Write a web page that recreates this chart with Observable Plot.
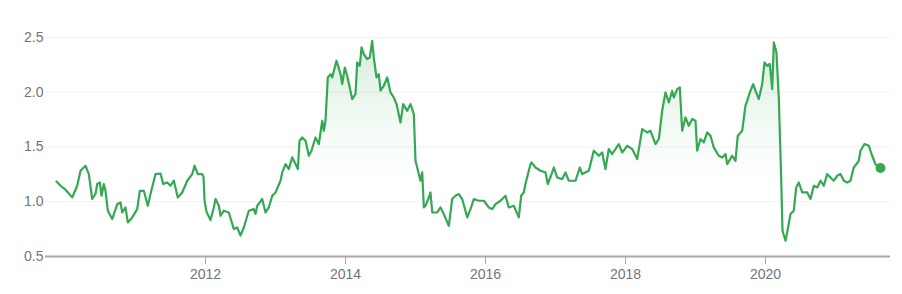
<!DOCTYPE html>
<html>
<head>
<meta charset="utf-8">
<script src="https://cdn.jsdelivr.net/npm/d3@7"></script>
<script src="https://cdn.jsdelivr.net/npm/@observablehq/plot@0.6"></script>
<style>
  html, body { margin: 0; padding: 0; background: #fff; }
  #chart svg { display: block; }
</style>
</head>
<body>
<div id="chart"></div>
<script>
const years = [
  2009.871, 2009.929, 2010.000, 2010.096, 2010.167, 2010.214, 2010.286, 2010.333, 2010.381, 2010.429,
  2010.453, 2010.490, 2010.514, 2010.547, 2010.571, 2010.604, 2010.667, 2010.739, 2010.786, 2010.810,
  2010.857, 2010.890, 2010.953, 2011.024, 2011.061, 2011.119, 2011.176, 2011.214, 2011.286, 2011.357,
  2011.396, 2011.453, 2011.500, 2011.547, 2011.604, 2011.667, 2011.739, 2011.810, 2011.843, 2011.890,
  2011.953, 2011.971, 2011.986, 2012.014, 2012.071, 2012.119, 2012.143, 2012.190, 2012.214, 2012.261,
  2012.333, 2012.404, 2012.453, 2012.500, 2012.547, 2012.619, 2012.690, 2012.714, 2012.739, 2012.810,
  2012.857, 2012.904, 2012.953, 2013.000, 2013.071, 2013.096, 2013.143, 2013.190, 2013.239, 2013.286,
  2013.319, 2013.343, 2013.381, 2013.429, 2013.476, 2013.514, 2013.571, 2013.619, 2013.667, 2013.690,
  2013.714, 2013.747, 2013.786, 2013.810, 2013.871, 2013.929, 2013.953, 2013.990, 2014.024, 2014.096,
  2014.143, 2014.167, 2014.204, 2014.229, 2014.261, 2014.310, 2014.347, 2014.381, 2014.404, 2014.443,
  2014.476, 2014.500, 2014.547, 2014.596, 2014.643, 2014.690, 2014.729, 2014.786, 2014.824, 2014.881,
  2014.929, 2014.976, 2015.000, 2015.047, 2015.071, 2015.096, 2015.119, 2015.143, 2015.190, 2015.214,
  2015.239, 2015.310, 2015.357, 2015.404, 2015.476, 2015.524, 2015.571, 2015.619, 2015.667, 2015.739,
  2015.786, 2015.833, 2015.904, 2015.976, 2016.047, 2016.096, 2016.143, 2016.214, 2016.286, 2016.333,
  2016.404, 2016.476, 2016.510, 2016.547, 2016.571, 2016.643, 2016.657, 2016.714, 2016.786, 2016.857,
  2016.890, 2016.953, 2016.976, 2017.024, 2017.096, 2017.143, 2017.190, 2017.286, 2017.347, 2017.381,
  2017.476, 2017.547, 2017.619, 2017.667, 2017.714, 2017.761, 2017.810, 2017.904, 2017.953, 2018.024,
  2018.096, 2018.167, 2018.239, 2018.310, 2018.357, 2018.429, 2018.476, 2018.524, 2018.571, 2018.619,
  2018.667, 2018.690, 2018.739, 2018.776, 2018.810, 2018.857, 2018.904, 2018.953, 2019.000, 2019.024,
  2019.071, 2019.119, 2019.167, 2019.214, 2019.261, 2019.333, 2019.381, 2019.429, 2019.453, 2019.524,
  2019.571, 2019.604, 2019.667, 2019.714, 2019.739, 2019.776, 2019.824, 2019.857, 2019.904, 2019.953,
  2019.986, 2020.024, 2020.061, 2020.096, 2020.119, 2020.157, 2020.190, 2020.224, 2020.243, 2020.286,
  2020.319, 2020.357, 2020.404, 2020.439, 2020.476, 2020.524, 2020.596, 2020.643, 2020.690, 2020.739,
  2020.786, 2020.833, 2020.881, 2020.929, 2020.976, 2021.024, 2021.071, 2021.119, 2021.167, 2021.214,
  2021.261, 2021.333, 2021.357, 2021.414, 2021.476, 2021.524, 2021.571, 2021.643
];
const values = [
  1.185, 1.146, 1.110, 1.040, 1.146, 1.283, 1.329, 1.253, 1.025, 1.073,
  1.162, 1.176, 1.055, 1.162, 1.100, 0.918, 0.842, 0.979, 0.994, 0.902,
  0.948, 0.811, 0.857, 0.933, 1.100, 1.100, 0.963, 1.070, 1.253, 1.258,
  1.162, 1.176, 1.146, 1.192, 1.039, 1.085, 1.192, 1.253, 1.329, 1.253,
  1.253, 1.228, 1.010, 0.909, 0.833, 0.948, 1.025, 0.963, 0.872, 0.918,
  0.902, 0.751, 0.765, 0.690, 0.765, 0.918, 0.933, 0.888, 0.963, 1.025,
  0.902, 0.948, 1.055, 1.085, 1.192, 1.268, 1.344, 1.299, 1.405, 1.344,
  1.299, 1.557, 1.587, 1.557, 1.420, 1.466, 1.587, 1.527, 1.740, 1.648,
  1.740, 2.135, 2.166, 2.135, 2.288, 2.166, 2.075, 2.226, 2.151, 1.938,
  1.984, 2.272, 2.242, 2.409, 2.349, 2.303, 2.318, 2.470, 2.318, 2.135,
  2.166, 2.014, 2.059, 2.135, 1.998, 1.952, 1.892, 1.724, 1.892, 1.831,
  1.892, 1.800, 1.374, 1.253, 1.192, 1.268, 0.948, 0.963, 1.039, 1.085,
  0.902, 0.902, 0.948, 0.888, 0.780, 1.025, 1.055, 1.070, 1.025, 0.857,
  0.933, 1.025, 1.009, 1.009, 0.948, 0.933, 0.979, 1.009, 1.055, 0.948,
  0.963, 0.857, 1.055, 1.085, 1.162, 1.344, 1.359, 1.313, 1.283, 1.268,
  1.162, 1.268, 1.313, 1.222, 1.207, 1.268, 1.192, 1.192, 1.313, 1.253,
  1.283, 1.466, 1.420, 1.450, 1.299, 1.481, 1.436, 1.527, 1.450, 1.511,
  1.481, 1.390, 1.664, 1.633, 1.648, 1.527, 1.573, 1.831, 1.998, 1.907,
  2.014, 1.952, 2.029, 2.044, 1.648, 1.770, 1.694, 1.755, 1.740, 1.466,
  1.573, 1.542, 1.633, 1.603, 1.496, 1.420, 1.405, 1.436, 1.344, 1.420,
  1.374, 1.603, 1.648, 1.877, 1.922, 1.998, 2.075, 2.014, 1.938, 2.075,
  2.272, 2.242, 2.258, 2.029, 2.455, 2.363, 1.952, 1.222, 0.735, 0.644,
  0.751, 0.888, 0.918, 1.131, 1.176, 1.085, 1.085, 1.025, 1.146, 1.131,
  1.192, 1.146, 1.253, 1.222, 1.192, 1.237, 1.253, 1.192, 1.176, 1.192,
  1.313, 1.374, 1.466, 1.527, 1.511, 1.420, 1.344, 1.308
];
const xTicks = [2012, 2014, 2016, 2018, 2020];
const yTicks = [0.5, 1.0, 1.5, 2.0, 2.5];

const data = years.map((t, i) => ({t, v: values[i]}));
const last = [data[data.length - 1]];
const green = "#34a853";

const chart = Plot.plot({
  width: 902,
  height: 294,
  marginLeft: 45,
  marginRight: 12,
  marginTop: 37,
  marginBottom: 38,
  style: {fontFamily: "'Liberation Sans', Arial, sans-serif", fontSize: "14px", color: "#70757a", background: "#fff"},
  x: {domain: [2009.714, 2021.786], ticks: xTicks, tickFormat: d => String(d), label: null, tickSize: 8, tickPadding: 5},
  y: {domain: [0.5, 2.5], ticks: yTicks, tickFormat: d => d.toFixed(1), label: null, tickSize: 0, tickPadding: 2},
  marks: [
    Plot.gridY(yTicks, {stroke: "#f1f1f1", strokeOpacity: 1, strokeWidth: 1}),
    Plot.areaY(data, {x: "t", y1: 0.5, y2: "v", fill: "url(#areaGrad)"}),
    Plot.line(data, {x: "t", y: "v", stroke: green, strokeWidth: 2.2, strokeLinejoin: "round"}),
    Plot.ruleY([0.5], {stroke: "#a8a8a8", strokeWidth: 2}),
    Plot.axisX({ticks: xTicks, tickFormat: d => String(d), tickSize: 8, tickPadding: 5, stroke: "#a8a8a8", label: null}),
    Plot.axisY({ticks: yTicks, tickFormat: d => d.toFixed(1), tickSize: 0, tickPadding: 2, label: null}),
    Plot.dot(last, {x: "t", y: "v", r: 5, fill: green, stroke: "none"})
  ]
});

const svg = d3.select(chart);
const defs = svg.insert("defs", ":first-child");
const grad = defs.append("linearGradient").attr("id", "areaGrad")
  .attr("x1", 0).attr("y1", 0).attr("x2", 0).attr("y2", 1);
grad.append("stop").attr("offset", "0%").attr("stop-color", green).attr("stop-opacity", 0.2);
grad.append("stop").attr("offset", "35%").attr("stop-color", green).attr("stop-opacity", 0.07);
grad.append("stop").attr("offset", "65%").attr("stop-color", green).attr("stop-opacity", 0.0);
grad.append("stop").attr("offset", "100%").attr("stop-color", green).attr("stop-opacity", 0);

document.getElementById("chart").appendChild(chart);
</script>
</body>
</html>
